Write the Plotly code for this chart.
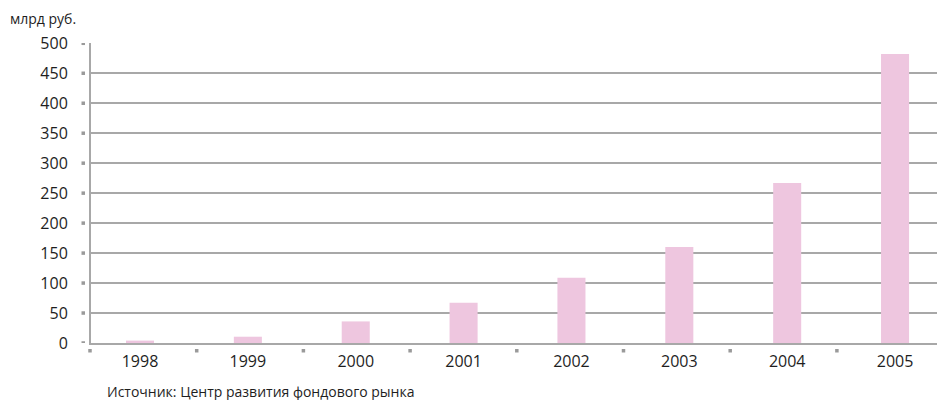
import plotly.graph_objects as go

# Data: billions of rubles by year
years = ["1998", "1999", "2000", "2001", "2002", "2003", "2004", "2005"]
values = [4, 10.5, 36, 67, 109, 160, 267, 482]
y_ticks = [0, 50, 100, 150, 200, 250, 300, 350, 400, 450, 500]

unit_label = "млрд руб."
source_text = "Источник: Центр развития фондового рынка"

W, H = 937, 400
L, R, T, B = 91, 0, 43, 57
x_lo, x_hi = -0.4543, 7.389
y_lo, y_hi = 0, 500.5

grid = "#a8a8a8"
tickmark = "#9a9a9a"
bar_color = "#eec6df"
font_family = "Open Sans, Noto Sans, sans-serif"
text_color = "#1e1e1e"

idx = list(range(len(years)))
PW, PH = W - L - R, H - T - B


def px_x(p):
    return (p - L) / PW


def px_y(p):
    return (H - B - p) / PH


fig = go.Figure()
fig.add_trace(go.Bar(
    x=idx, y=values, width=0.26,
    marker=dict(color=bar_color, line=dict(width=0)),
    hoverinfo="x+y", showlegend=False,
))

shapes = []
# small square tick marks beside the value labels
for v in y_ticks:
    shapes.append(dict(
        type="rect", xref="paper", yref="y", layer="above",
        xsizemode="scaled", ysizemode="pixel", yanchor=v,
        x0=px_x(81.5), x1=px_x(85), y0=-1.75, y1=1.75,
        fillcolor=tickmark, line=dict(width=0),
    ))
# small square tick marks at category boundaries under the axis
for k in range(len(years)):
    cx = 90 + k * 106.7
    shapes.append(dict(
        type="rect", xref="paper", yref="paper", layer="above",
        x0=px_x(cx - 1.75), x1=px_x(cx + 1.75),
        y0=px_y(352.5), y1=px_y(349),
        fillcolor=tickmark, line=dict(width=0),
    ))

fig.update_layout(
    width=W, height=H,
    margin=dict(l=L, r=R, t=T, b=B, pad=0),
    paper_bgcolor="white", plot_bgcolor="white",
    font=dict(family=font_family, color=text_color),
    xaxis=dict(
        range=[x_lo, x_hi], tickmode="array", tickvals=idx, ticktext=years,
        showgrid=False, zeroline=False, ticks="",
        showline=True, linecolor=grid, linewidth=2,
        tickfont=dict(size=16, color=text_color),
        ticklabelstandoff=3,
    ),
    yaxis=dict(
        range=[y_lo, y_hi], tickmode="array", tickvals=y_ticks,
        showgrid=True, gridcolor=grid, gridwidth=2,
        zeroline=False, ticks="",
        showline=True, linecolor=grid, linewidth=2,
        tickfont=dict(size=16, color=text_color),
        ticklabelstandoff=18,
    ),
    shapes=shapes,
    annotations=[
        dict(text=unit_label, x=px_x(8), y=px_y(18), xref="paper", yref="paper",
             showarrow=False, xanchor="left", yanchor="middle",
             font=dict(size=14, color=text_color, family=font_family)),
        dict(text=source_text, x=px_x(105), y=px_y(391), xref="paper", yref="paper",
             showarrow=False, xanchor="left", yanchor="middle",
             font=dict(size=14, color=text_color, family=font_family)),
    ],
)

fig.write_html("out.html")
